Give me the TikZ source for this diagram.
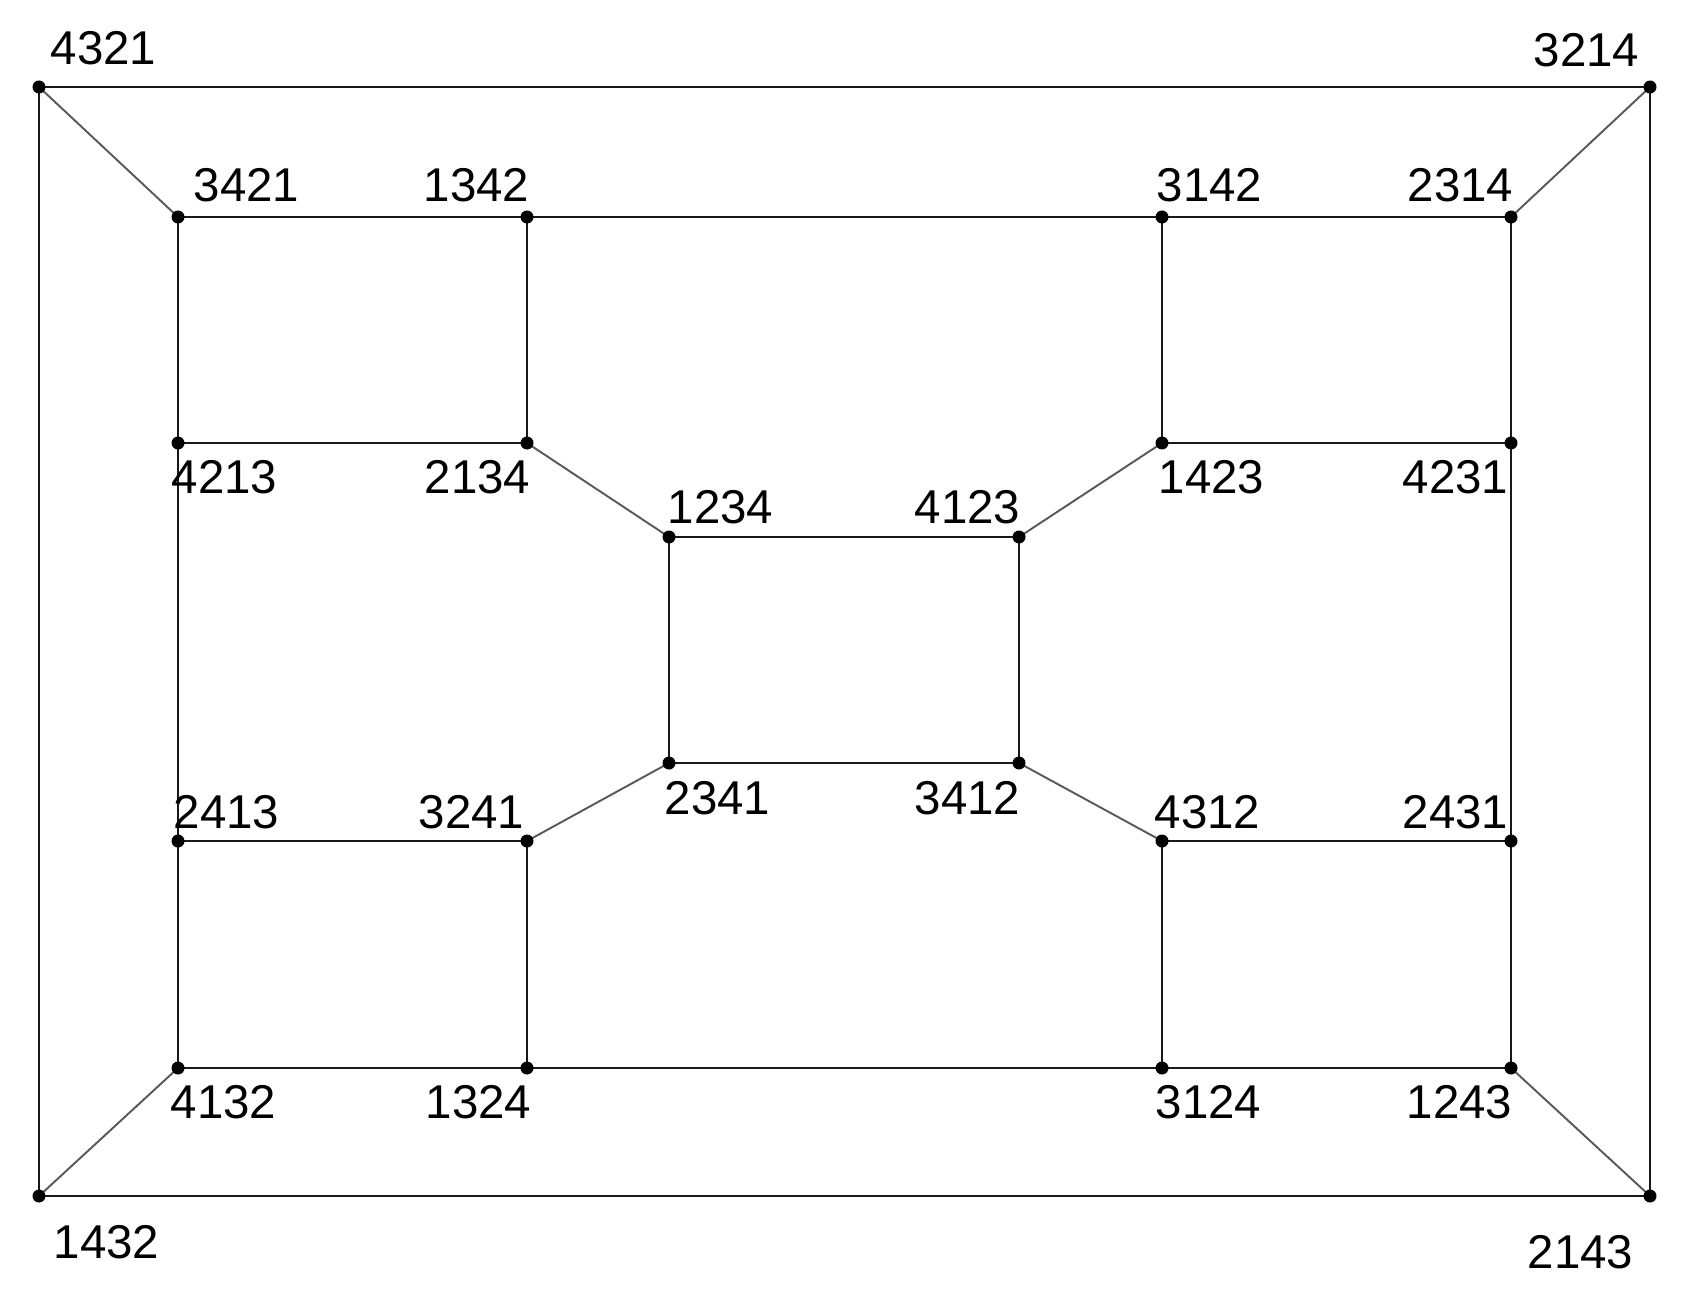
\documentclass[tikz,border=0pt]{standalone}
\usepackage{fontspec}
\setmainfont{Liberation Sans}
\begin{document}
\begin{tikzpicture}[
  dot/.style={circle,fill=black,inner sep=0pt,minimum size=0.13cm},
  lbl/.style={inner sep=0pt,font=\fontsize{13.5pt}{15pt}\selectfont},
  edge/.style={line width=0.75pt,black!90},
  diag/.style={line width=0.55pt,black!65}
]
\useasboundingbox (0,0) rectangle (16.98,12.98);
% vertices
\foreach \n/\x/\y in {4321/0.39/12.11, 3214/16.50/12.11, 1432/0.39/1.02, 2143/16.50/1.02,
  3421/1.78/10.81, 1342/5.27/10.81, 3142/11.62/10.81, 2314/15.11/10.81,
  4213/1.78/8.55, 2134/5.27/8.55, 1423/11.62/8.55, 4231/15.11/8.55,
  1234/6.69/7.61, 4123/10.19/7.61, 2341/6.69/5.35, 3412/10.19/5.35,
  2413/1.78/4.57, 3241/5.27/4.57, 4312/11.62/4.57, 2431/15.11/4.57,
  4132/1.78/2.30, 1324/5.27/2.30, 3124/11.62/2.30, 1243/15.11/2.30}
  \coordinate (n\n) at (\x,\y);
% edges
\draw[edge] (n4321) -- (n3214) -- (n2143) -- (n1432) -- cycle;
\draw[diag] (n4321) -- (n3421);
\draw[diag] (n3214) -- (n2314);
\draw[diag] (n1432) -- (n4132);
\draw[diag] (n2143) -- (n1243);
\draw[edge] (n3421) -- (n1342) -- (n3142) -- (n2314);
\draw[edge] (n4132) -- (n1324) -- (n3124) -- (n1243);
\draw[edge] (n3421) -- (n4213) -- (n2134) -- (n1342);
\draw[edge] (n3142) -- (n1423) -- (n4231) -- (n2314);
\draw[edge] (n2413) -- (n3241) -- (n1324) -- (n4132) -- cycle;
\draw[edge] (n4312) -- (n2431) -- (n1243) -- (n3124) -- cycle;
\draw[edge] (n4213) -- (n2413);
\draw[edge] (n4231) -- (n2431);
\draw[edge] (n1234) -- (n4123) -- (n3412) -- (n2341) -- cycle;
\draw[diag] (n2134) -- (n1234);
\draw[diag] (n4123) -- (n1423);
\draw[diag] (n2341) -- (n3241);
\draw[diag] (n3412) -- (n4312);
% dots
\foreach \n in {4321,3214,1432,2143,3421,1342,3142,2314,4213,2134,1423,4231,
  1234,4123,2341,3412,2413,3241,4312,2431,4132,1324,3124,1243}
  \node[dot] (d\n) at (n\n) {};
% labels
\foreach \n/\x/\y in {4321/0.50/12.33, 1432/0.53/0.40, 3421/1.93/10.96, 3142/11.56/10.96,
  4213/1.71/8.05, 1423/11.58/8.05, 1234/6.67/7.75, 2341/6.64/4.84,
  2413/1.73/4.70, 4312/11.54/4.70, 4132/1.70/1.80, 3124/11.55/1.80}
  \node[lbl,anchor=base west] (l\n) at (\x,\y) {\n};
\foreach \n/\x/\y in {3214/16.40/12.31, 2143/16.34/0.30, 1342/5.30/10.96, 2314/15.14/10.96,
  2134/5.31/8.05, 4231/15.09/8.05, 4123/10.21/7.75, 3412/10.21/4.84,
  3241/5.25/4.70, 2431/15.09/4.70, 1324/5.32/1.80, 1243/15.13/1.80}
  \node[lbl,anchor=base east] (l\n) at (\x,\y) {\n};
\end{tikzpicture}
\end{document}
